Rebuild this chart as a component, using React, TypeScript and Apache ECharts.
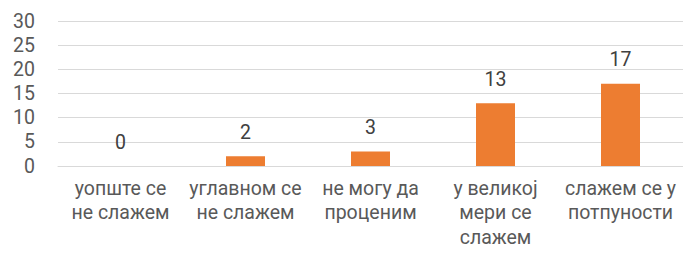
import React, { useEffect, useRef } from "react";
import * as echarts from "echarts";

const categories = [
  "уопште се\nне слажем",
  "углавном се\nне слажем",
  "не могу да\nпроценим",
  "у великој\nмери се\nслажем",
  "слажем се у\nпотпуности",
];
const values = [0, 2, 3, 13, 17];
const yTicks = { min: 0, max: 30, interval: 5 };

export default function App() {
  const ref = useRef<HTMLDivElement>(null);
  useEffect(() => {
    const chart = echarts.init(ref.current!, null, { renderer: "svg" });
    const font = "Roboto, sans-serif";
    chart.setOption({
      animation: false,
      grid: { left: 58, right: 0, top: 21, bottom: 98 },
      xAxis: {
        type: "category",
        data: categories,
        axisLine: { lineStyle: { color: "#D9D9D9", width: 1 } },
        axisTick: { show: false },
        axisLabel: {
          color: "#595959",
          fontSize: 19.5,
          fontFamily: font,
          lineHeight: 24.5,
          margin: 10,
          interval: 0,
        },
      },
      yAxis: {
        type: "value",
        min: yTicks.min,
        max: yTicks.max,
        interval: yTicks.interval,
        axisLine: { show: false },
        axisTick: { show: false },
        splitLine: { lineStyle: { color: "#D9D9D9", width: 1 } },
        axisLabel: { color: "#595959", fontSize: 19.5, fontFamily: font, margin: 23 },
      },
      series: [
        {
          type: "bar",
          data: values,
          barWidth: 39,
          itemStyle: { color: "#ED7D31" },
          label: {
            show: true,
            position: "top",
            distance: 14,
            color: "#404040",
            fontSize: 19.5,
            fontFamily: font,
          },
        },
      ],
    });
    return () => chart.dispose();
  }, []);
  return <div ref={ref} style={{ width: 683, height: 264, position: "absolute", left: 0, top: 0 }} />;
}
